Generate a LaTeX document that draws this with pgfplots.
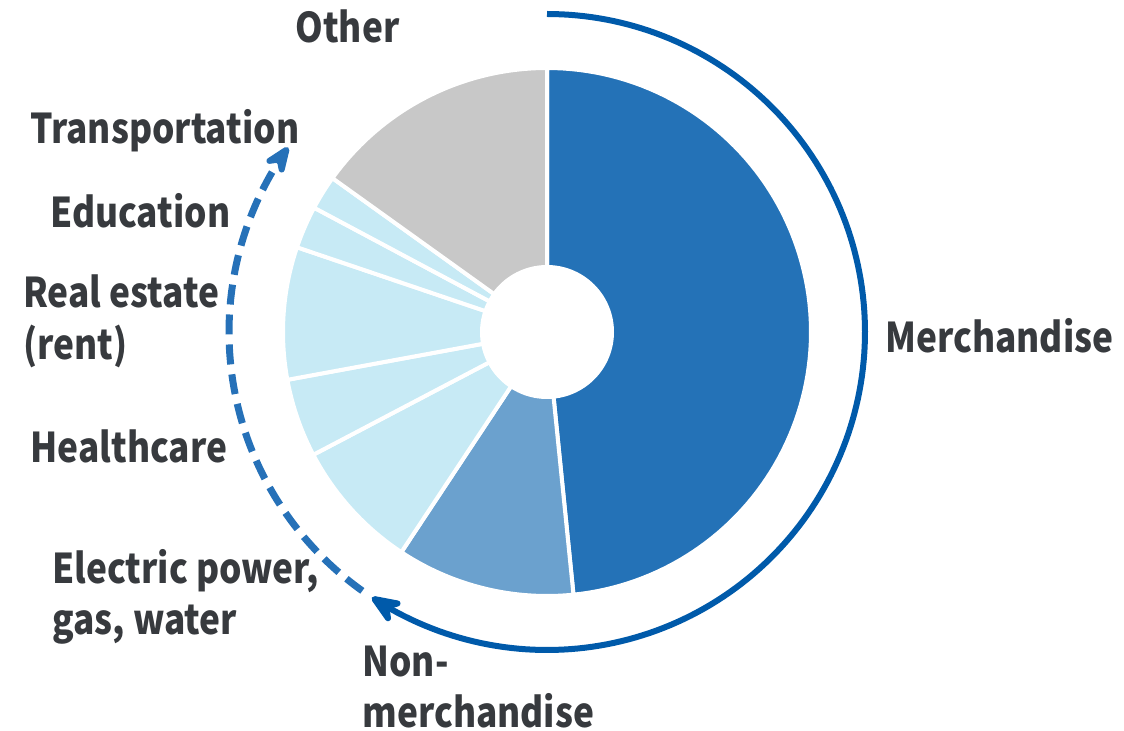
\documentclass[border=0pt]{standalone}
\usepackage{pgfplots}
\pgfplotsset{compat=1.18}
\usetikzlibrary{arrows.meta}
\usepackage{fontspec}
\setmainfont{Noto Sans CJK JP}[FakeStretch=0.86]
\definecolor{merch}{RGB}{36,114,183}
\definecolor{nonmerch}{RGB}{107,161,206}
\definecolor{lightb}{RGB}{199,234,245}
\definecolor{othergray}{RGB}{200,200,200}
\definecolor{arcblue}{RGB}{0,90,170}
\definecolor{dashblue}{RGB}{38,113,184}
\definecolor{txt}{RGB}{55,58,62}
\newcommand\cum{0}
\newcommand\pieslice[2]{%
 \pgfmathsetmacro\aone{\cum*3.6}%
 \pgfmathsetmacro\atwo{(\cum+#1)*3.6}%
 \pgfmathsetmacro\tmp{\cum+#1}\global\let\cum\tmp
 \edef\doit{\noexpand\addplot[fill=#2, draw=white, line width=2pt, line join=round, samples at={-1,0,1,...,100,101}] ({547+264*(x>=0)*(x<=100)*sin(\aone+x*(\atwo-\aone)/100)},{332-264*(x>=0)*(x<=100)*cos(\aone+x*(\atwo-\aone)/100)});}%
 \doit}
\begin{document}
\begin{tikzpicture}
\useasboundingbox (0,0) rectangle (562pt,365.5pt);
\begin{axis}[at={(0,0)}, anchor=south west, scale only axis, width=562pt, height=365.5pt,
  xmin=0, xmax=1124, ymin=0, ymax=731, y dir=reverse, hide axis, clip=false]
% shares in percent, clockwise from 12 o'clock
\pieslice{48.4}{merch}      % Merchandise
\pieslice{10.9}{nonmerch}   % Non-merchandise
\pieslice{8.0}{lightb}      % Electric power, gas, water
\pieslice{4.8}{lightb}      % Healthcare
\pieslice{8.1}{lightb}      % Real estate (rent)
\pieslice{2.6}{lightb}      % Education
\pieslice{2.1}{lightb}      % Transportation
\pieslice{15.1}{othergray}  % Other
\addplot[fill=white, draw=none, domain=0:360, samples=120] ({547+67*sin(x)},{332-67*cos(x)});
\addplot[draw=arcblue, line width=3pt, domain=0:213.4, samples=160,
  -{Stealth[length=20pt,width=16pt,inset=7pt,round]}] ({547+318*sin(x)},{332-318*cos(x)});
\addplot[draw=dashblue, line width=3.5pt, dash pattern=on 10pt off 5pt, domain=215.5:305.5, samples=120,
  -{Stealth[length=19pt,width=15pt,inset=7pt,round]}] ({547+318*sin(x)},{332-318*cos(x)});
\tikzset{lab/.style={anchor=base west, inner sep=0pt, text=txt, font=\fontsize{20.5pt}{25.5pt}\selectfont\bfseries}}
\node[lab] at (axis cs:295,43) {Other};
\node[lab] at (axis cs:30,144) {Transportation};
\node[lab] at (axis cs:50,228) {Education};
\node[lab] at (axis cs:23,308) {Real estate};
\node[lab] at (axis cs:23,360) {(rent)};
\node[lab] at (axis cs:30,463) {Healthcare};
\node[lab] at (axis cs:52,583) {Electric power,};
\node[lab] at (axis cs:52,634) {gas, water};
\node[lab] at (axis cs:362,676) {Non-};
\node[lab] at (axis cs:362,727) {merchandise};
\node[lab] at (axis cs:885,353) {Merchandise};
\end{axis}
\end{tikzpicture}
\end{document}
